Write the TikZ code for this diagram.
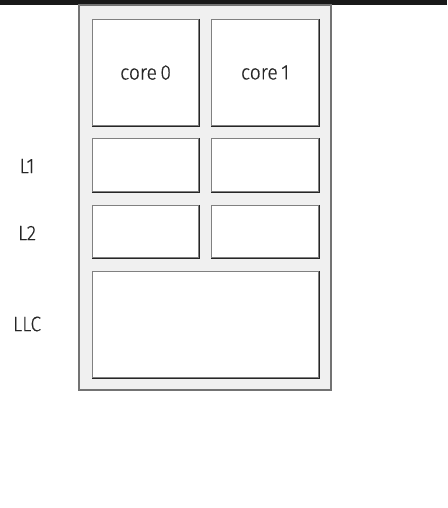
\documentclass[tikz,border=0pt]{standalone}
\usepackage{fontspec}
\setmainfont{Fira Sans Light}[FakeStretch=0.92,FakeBold=0.3]
\begin{document}
\begin{tikzpicture}[x=1pt,y=-1pt,
  outerbox/.style={draw=black!55,fill=black!6,line width=1.2pt},
  cellbox/.style={draw=black!50,fill=white,line width=1.2pt},
  edgeline/.style={black!85,line width=1.2pt},
  lbl/.style={font=\fontsize{21}{24}\selectfont,text=black!85,inner sep=0pt}]
\useasboundingbox (0,0) rectangle (447,508);
\fill[black!90] (0,0) rectangle (447,5);
\draw[outerbox] (79,5) rectangle (331,390);
\node[cellbox,minimum width=106pt,minimum height=106pt,anchor=north west] (c0) at (92,19) {};
\node[cellbox,minimum width=107pt,minimum height=106pt,anchor=north west] (c1) at (211,19) {};
\node[cellbox,minimum width=106pt,minimum height=53pt,anchor=north west] (l1a) at (92,138) {};
\node[cellbox,minimum width=107pt,minimum height=53pt,anchor=north west] (l1b) at (211,138) {};
\node[cellbox,minimum width=106pt,minimum height=52pt,anchor=north west] (l2a) at (92,205) {};
\node[cellbox,minimum width=107pt,minimum height=52pt,anchor=north west] (l2b) at (211,205) {};
\node[cellbox,minimum width=226pt,minimum height=106pt,anchor=north west] (llc) at (92,271) {};
\foreach \n in {c0,c1,l1a,l1b,l2a,l2b,llc}
  \draw[edgeline] (\n.north east) -- (\n.south east) -- (\n.south west);
\node[lbl] (t0) at (c0) {core\,0};
\node[lbl] (t1) at (c1) {core\,1};
\node[lbl] (L1) at (27,166) {L1};
\node[lbl] (L2) at (27,233) {L2};
\node[lbl] (LLC) at (27,324) {LLC};
\end{tikzpicture}
\end{document}
